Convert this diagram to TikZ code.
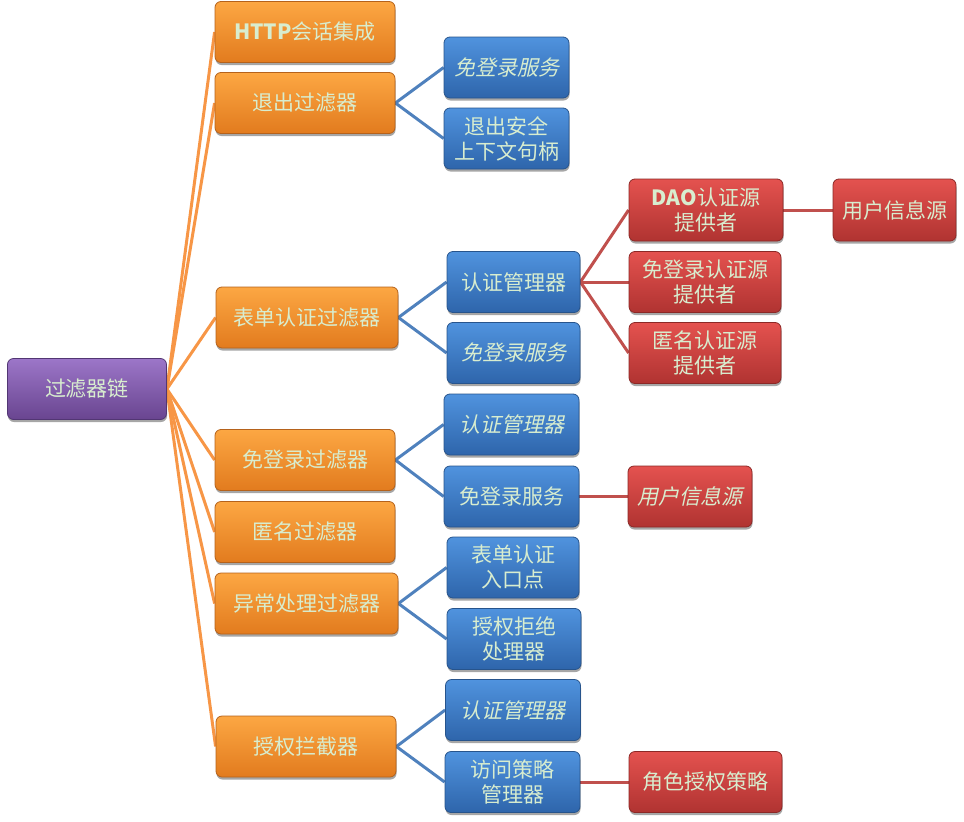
\documentclass[tikz,border=0pt]{standalone}
\usepackage{fontspec}
\setmainfont{Noto Sans CJK SC}
\newfontfamily\itfont[FakeSlant=0.22]{Noto Sans CJK SC}
\usetikzlibrary{shadows,backgrounds}
\definecolor{txt}{HTML}{D8EDCF}
\definecolor{otop}{HTML}{FCA743}
\definecolor{obot}{HTML}{E27B1E}
\definecolor{obrd}{HTML}{B5621B}
\definecolor{ptop}{HTML}{9C76C8}
\definecolor{pbot}{HTML}{694590}
\definecolor{pbrd}{HTML}{523673}
\definecolor{btop}{HTML}{5093DE}
\definecolor{bbot}{HTML}{2E65AB}
\definecolor{bbrd}{HTML}{27548C}
\definecolor{rtop}{HTML}{E4524F}
\definecolor{rbot}{HTML}{B03331}
\definecolor{rbrd}{HTML}{8C2826}
\definecolor{oline}{HTML}{F79646}
\definecolor{bline}{HTML}{4F81BD}
\definecolor{rline}{HTML}{C0504D}
\tikzset{
  box/.style={rectangle, rounded corners=6pt, inner sep=0pt, align=center,
    text=txt, font=\fontsize{21}{25}\selectfont, line width=0.8pt,
    drop shadow={shadow xshift=0.5pt, shadow yshift=-2.5pt, opacity=0.35, fill=black}},
  obox/.style={box, draw=obrd, top color=otop, bottom color=obot, minimum width=180pt, minimum height=61pt},
  pbox/.style={box, draw=pbrd, top color=ptop, bottom color=pbot, minimum width=159pt, minimum height=61pt},
  bbox/.style={box, draw=bbrd, top color=btop, bottom color=bbot, minimum width=134pt, minimum height=61pt},
  rbox/.style={box, draw=rbrd, top color=rtop, bottom color=rbot, minimum width=153pt, minimum height=61pt},
  oedge/.style={draw=oline, line width=3pt},
  bedge/.style={draw=bline, line width=3pt},
  redge/.style={draw=rline, line width=3pt},
}
\begin{document}
\begin{tikzpicture}[x=1pt,y=-1pt]
\useasboundingbox (0,0) rectangle (964,822);
% root
\node[pbox] (p) at (87,389) {过滤器链};
% orange
\node[obox] (o1) at (305,32) {\textbf{HTTP}会话集成};
\node[obox] (o2) at (305,103) {退出过滤器};
\node[obox, minimum width=182pt] (o3) at (307,317.5) {表单认证过滤器};
\node[obox] (o4) at (305,460) {免登录过滤器};
\node[obox] (o5) at (305,532) {匿名过滤器};
\node[obox, minimum width=183pt] (o6) at (306.5,603.5) {异常处理过滤器};
\node[obox] (o7) at (306,746.5) {授权拦截器};
% blue
\node[bbox, minimum width=125pt] (b1) at (506.5,67.5) {\itfont 免登录服务};
\node[bbox, minimum width=125pt] (b2) at (506.5,138.5) {退出安全\\上下文句柄};
\node[bbox, minimum width=133pt] (b3) at (513.5,282) {认证管理器};
\node[bbox, minimum width=133pt] (b4) at (513.5,353) {\itfont 免登录服务};
\node[bbox, minimum width=135pt] (b5) at (511.5,424.5) {\itfont 认证管理器};
\node[bbox, minimum width=135pt] (b6) at (511.5,496.5) {免登录服务};
\node[bbox, minimum width=132pt] (b7) at (513,567.5) {表单认证\\入口点};
\node[bbox, minimum width=134pt] (b8) at (514,639) {授权拒绝\\处理器};
\node[bbox, minimum width=135pt] (b9) at (513,710) {\itfont 认证管理器};
\node[bbox, minimum width=135pt] (b10) at (512.5,782) {访问策略\\管理器};
% red
\node[rbox, minimum width=154pt, minimum height=62pt] (r1) at (706,210) {\textbf{DAO}认证源\\提供者};
\node[rbox, minimum width=123pt, minimum height=62pt] (r2) at (894.5,210) {用户信息源};
\node[rbox, minimum width=152pt] (r3) at (705,282) {免登录认证源\\提供者};
\node[rbox, minimum width=152pt] (r4) at (705,353) {匿名认证源\\提供者};
\node[rbox, minimum width=124pt] (r5) at (690,496.5) {\itfont 用户信息源};
\node[rbox, minimum width=153pt] (r6) at (705.5,782) {角色授权策略};
% connectors
\begin{scope}[on background layer]
\foreach \o in {o1,o2,o3,o4,o5,o6,o7} \draw[oedge] (p.east) -- (\o.west);
\draw[bedge] (o2.east) -- (b1.west);
\draw[bedge] (o2.east) -- (b2.west);
\draw[bedge] (o3.east) -- (b3.west);
\draw[bedge] (o3.east) -- (b4.west);
\draw[bedge] (o4.east) -- (b5.west);
\draw[bedge] (o4.east) -- (b6.west);
\draw[bedge] (o6.east) -- (b7.west);
\draw[bedge] (o6.east) -- (b8.west);
\draw[bedge] (o7.east) -- (b9.west);
\draw[bedge] (o7.east) -- (b10.west);
\draw[redge] (b3.east) -- (r1.west);
\draw[redge] (b3.east) -- (r3.west);
\draw[redge] (b3.east) -- (r4.west);
\draw[redge] (r1.east) -- (r2.west);
\draw[redge] (b6.east) -- (r5.west);
\draw[redge] (b10.east) -- (r6.west);
\end{scope}
\end{tikzpicture}
\end{document}
